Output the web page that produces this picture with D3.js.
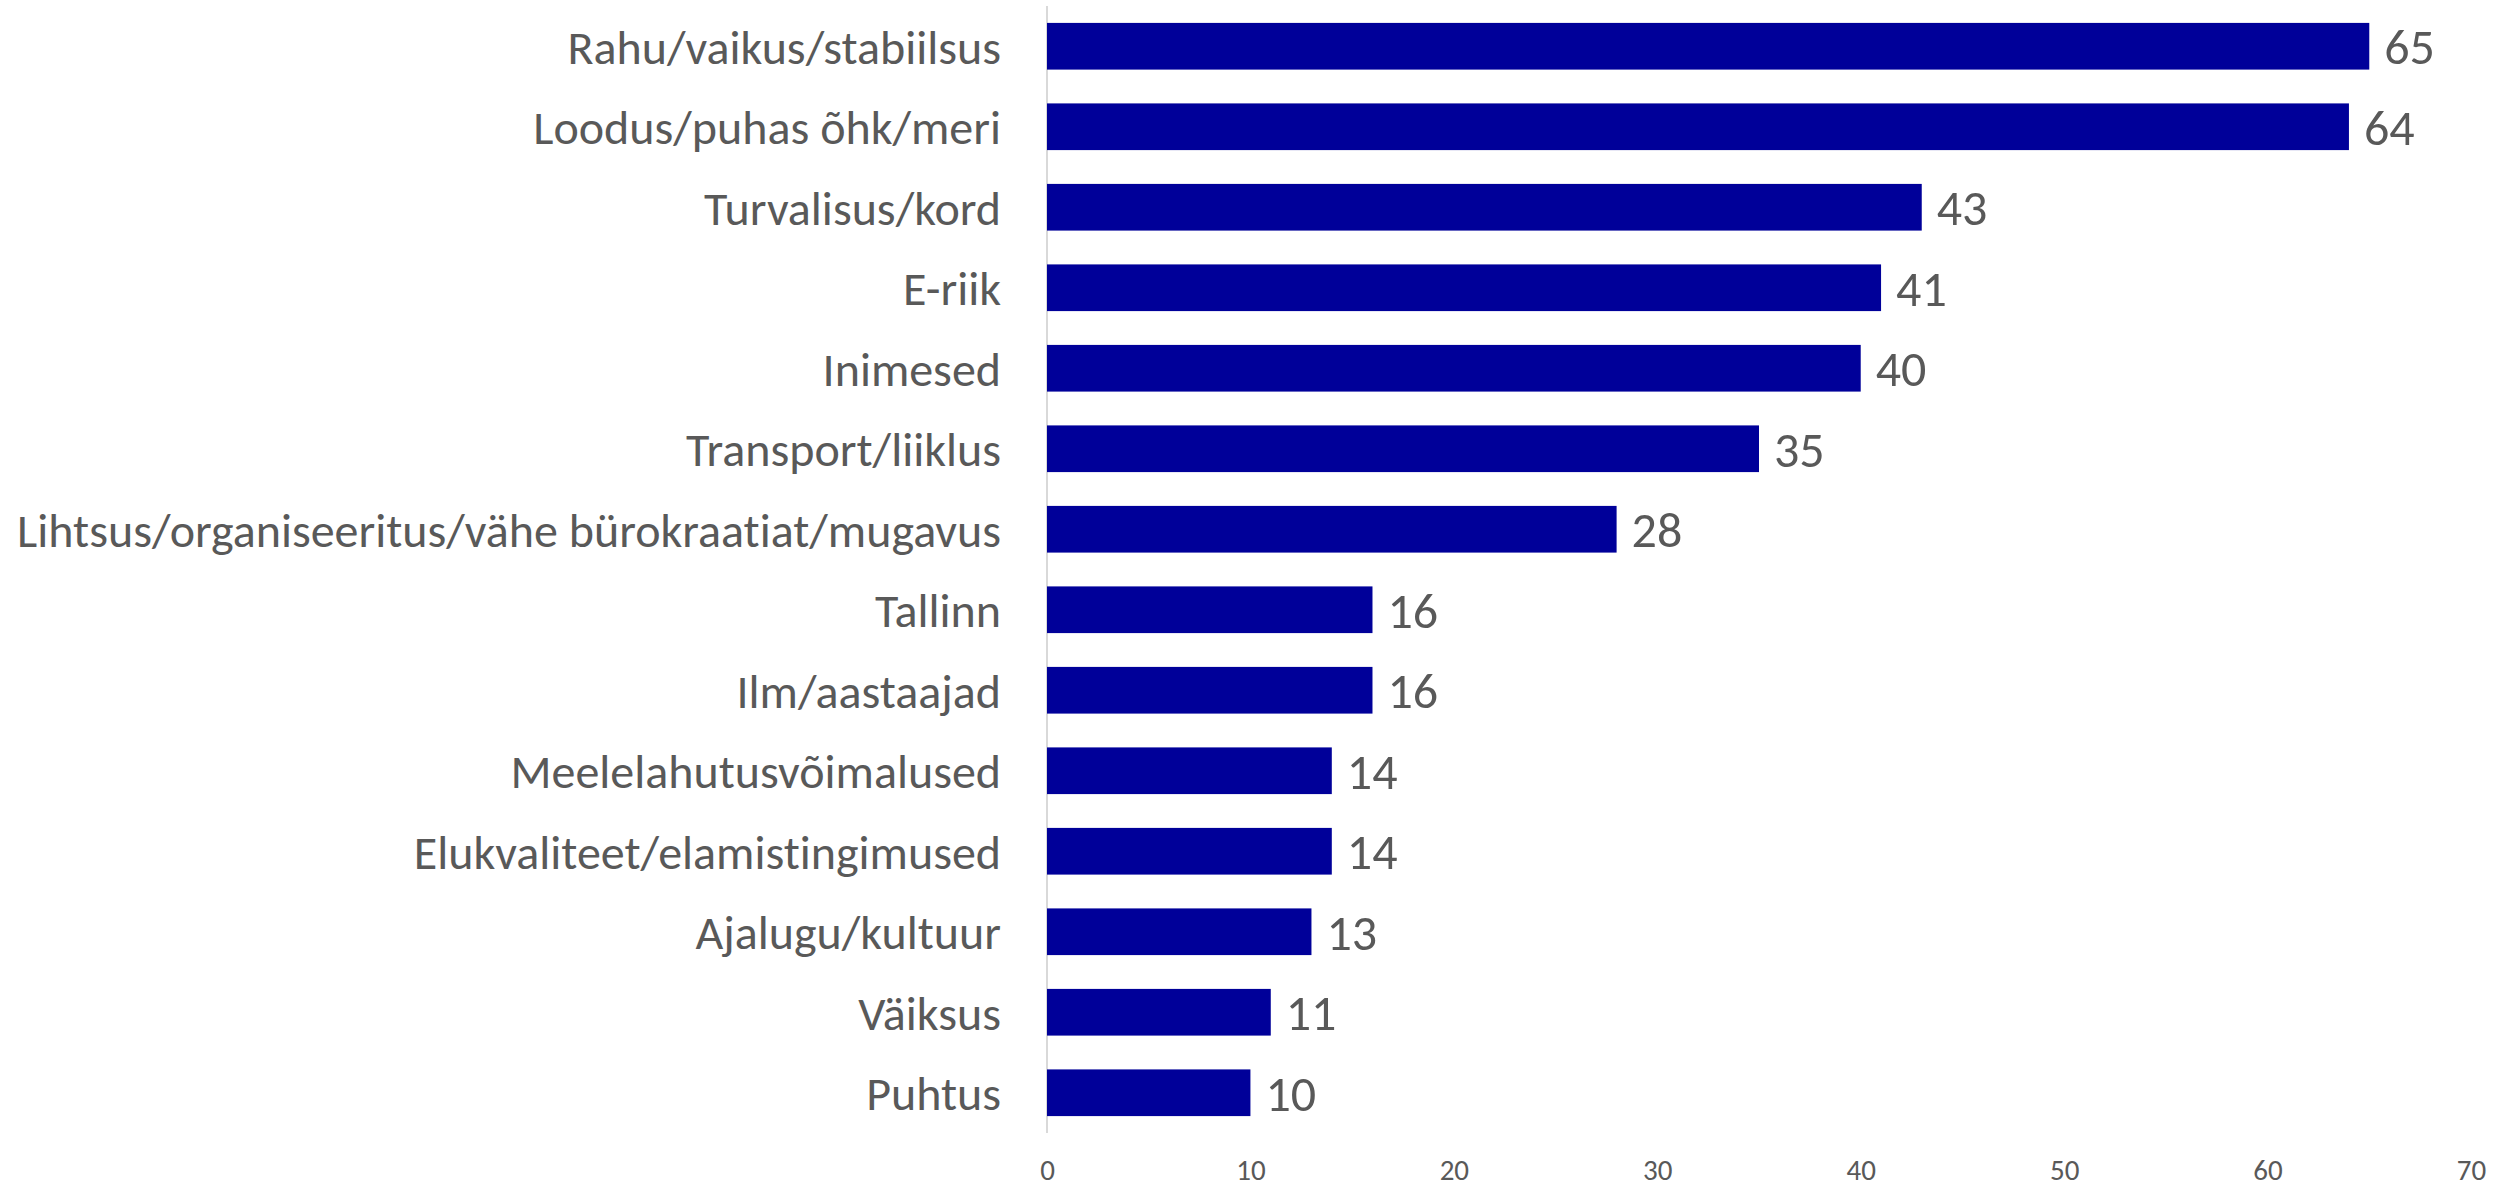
<!DOCTYPE html>
<html><head><meta charset="utf-8">
<script src="https://cdn.jsdelivr.net/npm/d3@7"></script>
<style>body{margin:0;background:#fff;} svg{display:block;} text{font-variant-ligatures:none;font-feature-settings:"liga" 0;}</style>
</head><body>
<svg id="c" width="2499" height="1188"></svg>
<script>
const categories = ["Rahu/vaikus/stabiilsus","Loodus/puhas õhk/meri","Turvalisus/kord","E-riik","Inimesed","Transport/liiklus","Lihtsus/organiseeritus/vähe bürokraatiat/mugavus","Tallinn","Ilm/aastaajad","Meelelahutusvõimalused","Elukvaliteet/elamistingimused","Ajalugu/kultuur","Väiksus","Puhtus"];
const values = [65,64,43,41,40,35,28,16,16,14,14,13,11,10];
const tickValues = [0,10,20,30,40,50,60,70];

const svg = d3.select("#c");
const font = "Carlito, Calibri, Lato, 'Open Sans', sans-serif";
const x = d3.scaleLinear().domain([0,70]).range([1047,2471]);
const y = d3.scaleBand().domain(categories).range([6,1133]).paddingInner(0.42).paddingOuter(0.21);

svg.append("line").attr("x1",x(0)).attr("x2",x(0)).attr("y1",6).attr("y2",1133)
  .attr("stroke","#d9d9d9").attr("stroke-width",2);

svg.selectAll("rect.bar").data(values).join("rect").attr("class","bar")
  .attr("x",x(0)).attr("y",(d,i)=>y(categories[i])).attr("width",d=>x(d)-x(0))
  .attr("height",y.bandwidth()).attr("fill","#000099");

svg.selectAll("text.val").data(values).join("text").attr("class","val")
  .attr("x",d=>x(d)+15).attr("y",(d,i)=>y(categories[i])+y.bandwidth()/2)
  .attr("dy","0.36em").attr("font-family",font).attr("font-size",50).attr("fill","#595959").text(d=>d);

svg.selectAll("text.cat").data(categories).join("text").attr("class","cat")
  .attr("x",1001).attr("y",d=>y(d)+y.bandwidth()/2).attr("dy","0.36em")
  .attr("text-anchor","end").attr("font-family",font).attr("font-size",48).attr("fill","#595959").text(d=>d);

const ax = svg.append("g").attr("transform","translate(0,1159)")
  .call(d3.axisBottom(x).tickValues(tickValues).tickSize(0).tickPadding(0));
ax.select(".domain").remove();
ax.selectAll("text").attr("font-family",font).attr("font-size",29).attr("fill","#595959");
</script>
</body></html>
